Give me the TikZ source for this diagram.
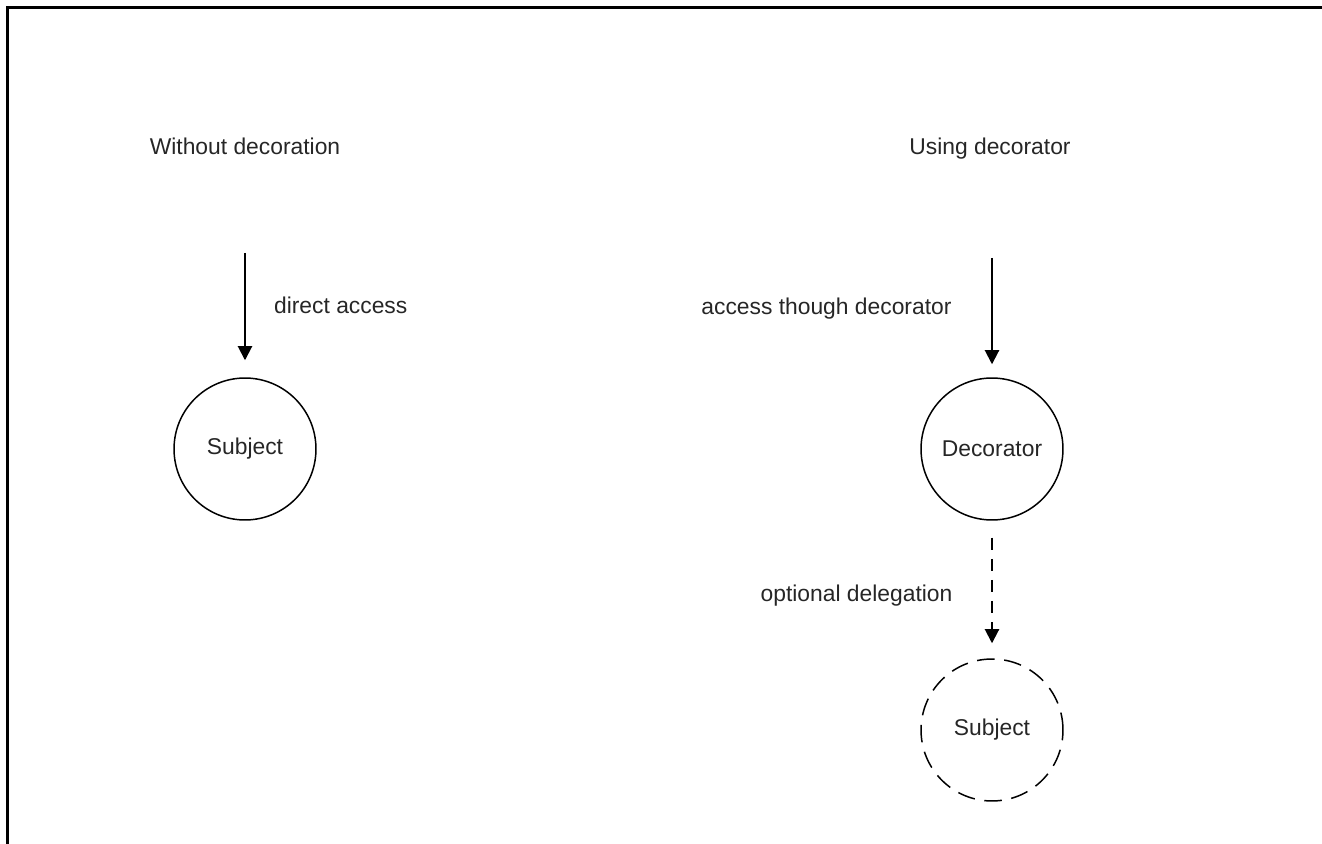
\documentclass[tikz,border=0pt]{standalone}
\usepackage{fontspec}
\setmainfont{Liberation Sans}
\usepackage{tikz}
\usetikzlibrary{arrows.meta,positioning}

\begin{document}
\begin{tikzpicture}[x=0.02cm,y=-0.02cm,font=\fontsize{13}{15}\selectfont,
	actor/.style={circle,draw,line width=0.85pt,minimum size=2.84cm,inner sep=0pt,text=black!85},
	arr/.style={-{Triangle[width=8pt,length=8pt]},line width=1.1pt},
	lbl/.style={inner sep=0pt,text=black!85,text height=1.6ex,text depth=.45ex}]
\useasboundingbox (0,0) rectangle (1322,844);
\draw[line width=1.6pt] (7.5,844) -- (7.5,7.5) -- (1322,7.5);

\node (t1) at (245,149)[lbl] {Without decoration};
\node (t2) at (990,149)[lbl] {Using decorator};

\coordinate (in1) at (245,253);
\node (subj) at (245,449)[actor] {Subject};
\coordinate (in2) at (992,258);
\node (deco) at (992,449)[actor] {Decorator};
\node (subj2) at (992,730)[actor,dash pattern=on 10pt off 5.5pt] {Subject};

\draw[arr,shorten >=17*0.569pt] (in1) -- node[lbl,midway,right=16pt,yshift=4pt] {direct access} (subj);
\draw[arr,shorten >=13*0.569pt] (in2) -- node[lbl,midway,left=22.5pt,yshift=5pt] {access though decorator} (deco);
\draw[arr,dash pattern=on 7pt off 5pt,shorten <=17*0.569pt,shorten >=15*0.569pt] (deco) -- node[lbl,midway,left=22pt,yshift=-4pt] {optional delegation} (subj2);
\end{tikzpicture}
\end{document}
